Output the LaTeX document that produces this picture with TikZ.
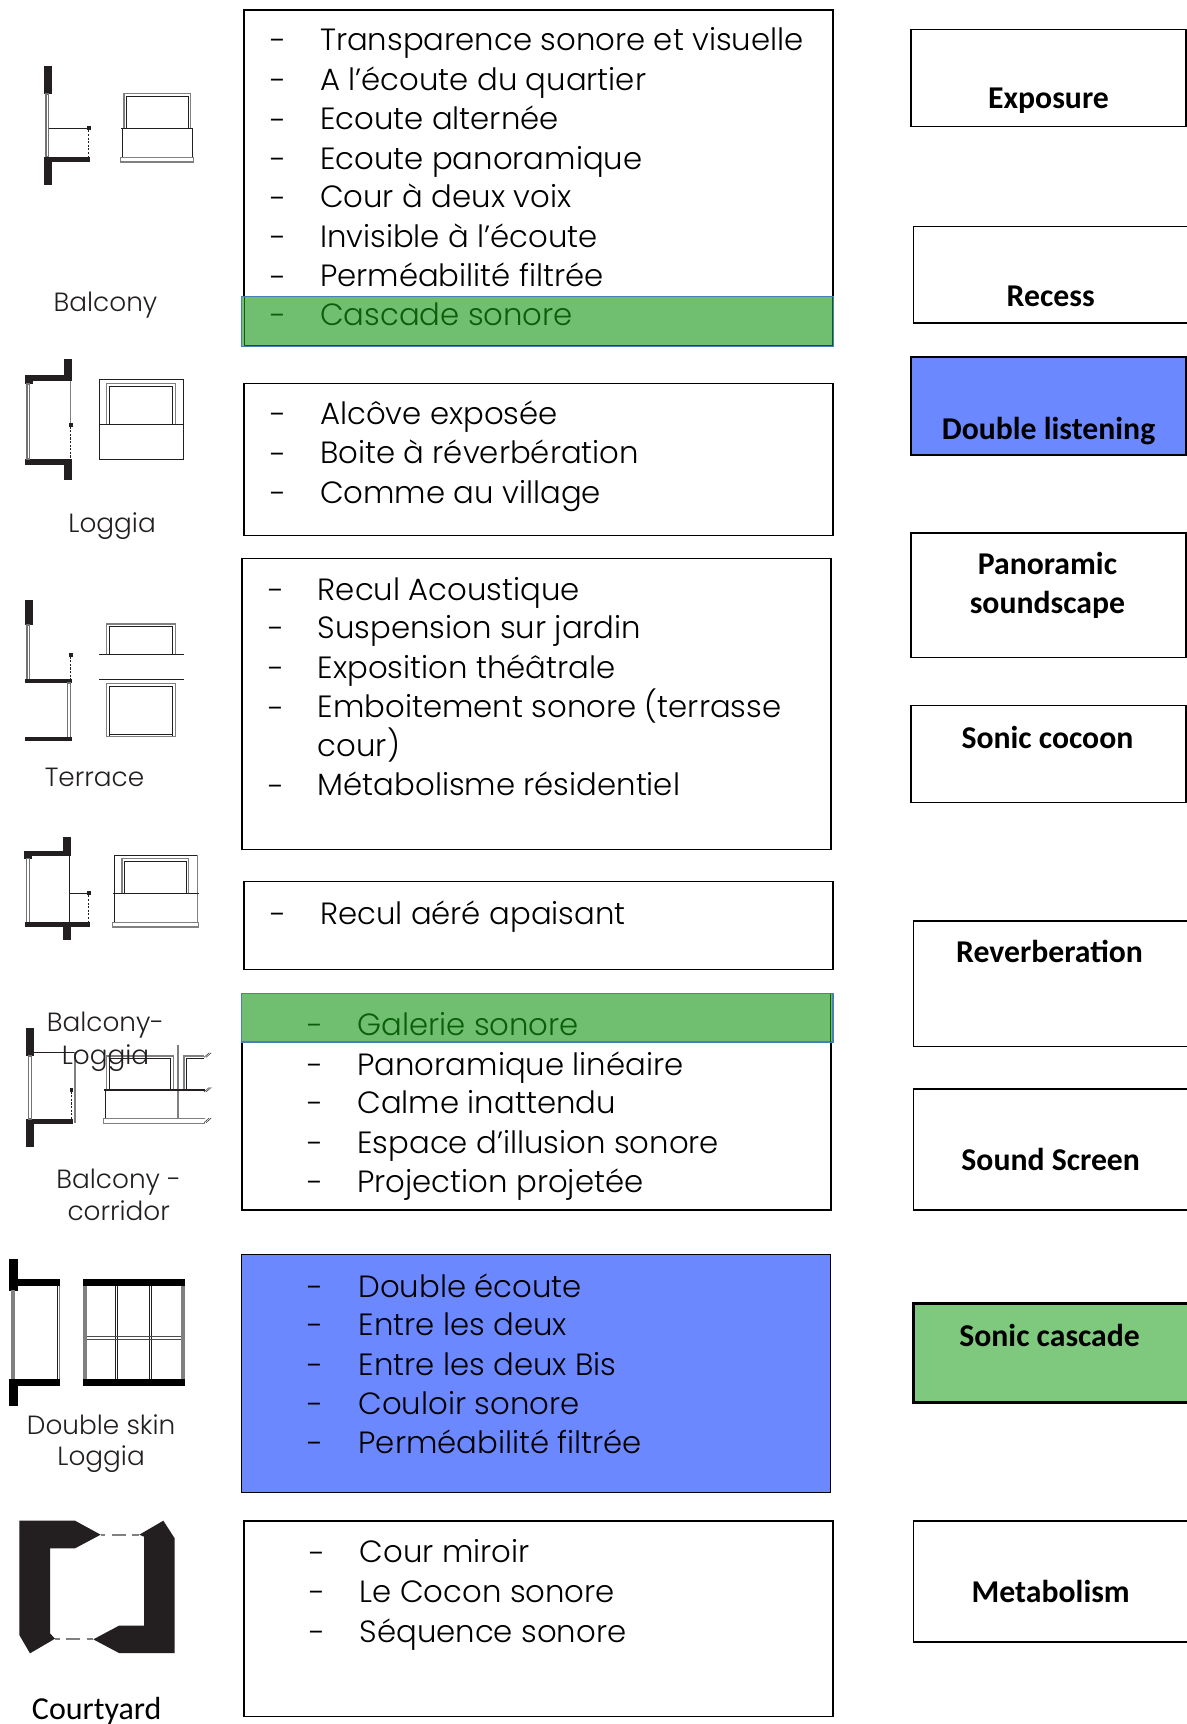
\documentclass[tikz,border=0pt]{standalone}
\usepackage{fontspec}
\setmainfont{Poppins}[UprightFont={* Light}]
\newfontfamily\calfam{Carlito}
\usetikzlibrary{calc}
\definecolor{ink}{HTML}{231F20}
\definecolor{bluef}{HTML}{6C88FF}
\definecolor{greenf}{HTML}{70BF70}
\definecolor{greenb}{HTML}{7FC97F}
\definecolor{greent}{HTML}{0B5F0B}
\definecolor{edgeb}{HTML}{4A7EBB}
\newcounter{tn}
\newcommand{\itm}[5][black]{\stepcounter{tn}\node[itemdash,text=#1] (d\thetn) at (#2,#4) {-};\node[itemtext,text=#1] (t\thetn) at (#3,#4) {#5};}
\newcommand{\lab}[3]{\stepcounter{tn}\node[leftlab] (l\thetn) at (#1,#2) {#3};}
\newcommand{\rlab}[3]{\stepcounter{tn}\node[rightlab] (r\thetn) at (#1,#2) {#3};}
\tikzset{
 itemdash/.style={anchor=mid,inner sep=0pt,xshift=1.8pt,yshift=-6.5pt,font=\fontsize{23.05pt}{26pt}\selectfont},
 itemtext/.style={anchor=mid west,inner sep=0pt,yshift=-5.6pt,font=\fontsize{23.05pt}{26pt}\selectfont},
 leftlab/.style={anchor=mid,inner sep=0pt,yshift=-3.2pt,font=\fontsize{19.75pt}{22pt}\selectfont,text=ink},
 rightlab/.style={anchor=mid,inner sep=0pt,yshift=-4.8pt,font=\calfam\bfseries\fontsize{23.8pt}{26pt}\selectfont},
 lbox/.style={draw=black,line width=1.1pt,fill=white},
 rbox/.style={draw=black,line width=1.1pt,fill=white},
 hl/.style={fill=greenf,draw=edgeb,line width=.9pt},
 wall/.style={fill=ink,draw=none},
 glass/.style={draw=black!55,line width=.85pt,fill=white},
 wline/.style={draw=ink,line width=.5pt},
 wgray/.style={draw=black!50,line width=1pt},
 heavy/.style={draw=ink,line width=1.1pt},
 dashl/.style={draw=ink,line width=.5pt,dash pattern=on 1.6pt off 1.1pt},
 icon/.style={x=0.25pt,y=-0.25pt},
 yarddash/.style={draw=black!50,line width=1.6pt,dash pattern=on 10.5pt off 4.85pt,dash phase=7pt}
}
\newcommand{\win}[4]{% outer double-line window open at the bottom
 \draw[wgray] (#1,#4) -- (#1,#2) -- (#3,#2) -- (#3,#4);
 \draw[wline] ($(#1,#4)+(8,0)$) -- ($(#1,#2)+(8,8)$) -- ($(#3,#2)+(-8,8)$) -- ($(#3,#4)+(-8,0)$);}
\begin{document}
\begin{tikzpicture}[x=0.75pt,y=-0.75pt]
\useasboundingbox (0,0) rectangle (1187,1724);
\clip (0,0) rectangle (1187,1724);
\fill[white] (0,0) rectangle (1187,1724);
\begin{scope}[x=0.8243pt,y=-0.8243pt]
% middle boxes
\draw[lbox] (222,9) rectangle (758,315);
\draw[lbox] (222,349) rectangle (758,487);
\draw[lbox] (220,508) rectangle (756,773);
\draw[lbox] (222,802) rectangle (758,882);
\draw[lbox] (220,904) rectangle (756,1101);
\draw[lbox,fill=bluef,line width=.8pt] (220,1141) rectangle (756,1358);
\draw[lbox] (222,1384) rectangle (758,1562);
\draw[hl] (220,270) rectangle (758,315);
\draw[greent,line width=.7pt] (222,270) -- (222,314) -- (757,314) -- (757,270);
\draw[hl] (220,904) rectangle (758,948);
\draw[greent,line width=.8pt] (756,904) -- (756,948);
% right boxes
\draw[rbox] (829,27) rectangle (1079,115);
\draw[rbox] (831,206) rectangle (1090,294);
\draw[rbox,fill=bluef,line width=1.4pt] (829,325) rectangle (1079,414);
\draw[rbox] (829,485) rectangle (1079,598);
\draw[rbox] (829,642) rectangle (1079,730);
\draw[rbox] (831,838) rectangle (1090,952);
\draw[rbox] (831,991) rectangle (1090,1101);
\draw[rbox,fill=greenb,line width=2.2pt] (831,1186) rectangle (1090,1276);
\draw[rbox] (831,1384) rectangle (1090,1494);
% items
\itm{251}{291}{36}{Transparence sonore et visuelle}
\itm{251}{291}{72}{A l’écoute du quartier}
\itm{251}{291}{108}{Ecoute alternée}
\itm{251}{291}{144}{Ecoute panoramique}
\itm{251}{291}{179}{Cour à deux voix}
\itm{251}{291}{215}{Invisible à l’écoute}
\itm{251}{291}{251}{Perméabilité filtrée}
\itm[greent]{251}{291}{286}{Cascade sonore}
\itm{251}{291}{376}{Alcôve exposée}
\itm{251}{291}{412}{Boite à réverbération}
\itm{251}{291}{448}{Comme au village}
\itm{249}{289}{536}{Recul Acoustique}
\itm{249}{289}{571}{Suspension sur jardin}
\itm{249}{289}{607}{Exposition théâtrale}
\itm{249}{289}{643}{Emboitement sonore (terrasse}
\stepcounter{tn}\node[itemtext] (t\thetn) at (289,678) {cour)};
\itm{249}{289}{714}{Métabolisme résidentiel}
\itm{251}{291}{831}{Recul aéré apaisant}
\itm[greent]{285}{325}{932}{Galerie sonore}
\itm{285}{325}{968}{Panoramique linéaire}
\itm{285}{325}{1003}{Calme inattendu}
\itm{285}{325}{1039}{Espace d’illusion sonore}
\itm{285}{325}{1075}{Projection projetée}
\itm{285}{326}{1170}{Double écoute}
\itm{285}{326}{1205}{Entre les deux}
\itm{285}{326}{1241}{Entre les deux Bis}
\itm{285}{326}{1277}{Couloir sonore}
\itm{285}{326}{1312}{Perméabilité filtrée}
\itm{287}{327}{1412}{Cour miroir}
\itm{287}{327}{1448}{Le Cocon sonore}
\itm{287}{327}{1484}{Séquence sonore}
% right labels
\rlab{954}{90}{Exposure}
\rlab{956}{270}{Recess}
\rlab{954}{391}{Double listening}
\rlab{953}{514}{Panoramic}
\rlab{953}{549}{soundscape}
\rlab{953}{672}{Sonic cocoon}
\rlab{955}{867}{Reverberation}
\rlab{956}{1056}{Sound Screen}
\rlab{955}{1216}{Sonic cascade}
\rlab{956}{1449}{Metabolism}
\end{scope}
% ---------- icons, drawn in zoom units
\begin{scope}[icon,yshift=-30pt]
% balcony plan
\fill[wall] (132,78) rectangle (156,162);
\fill[wall] (132,350) rectangle (156,435);
\fill[wall] (132,350) rectangle (270,366);
\draw[glass] (138,162) rectangle (146,350);
\draw[wline] (146,265) -- (267,265);
\fill[wall] (261,259) rectangle (273,271);
\draw[dashl] (266,271) -- (266,350);
% balcony elevation
\win{372}{160}{572}{265}
\draw[wline] (367,265) rectangle (578,352);
\draw[heavy] (364,265) -- (580,265);
\draw[wgray] (362,352) rectangle (581,366);
% loggia plan
\fill[wall] (192,957) rectangle (216,1022);
\fill[wall] (75,1005) rectangle (216,1022);
\fill[wall] (75,1022) rectangle (99,1032);
\fill[wall] (75,1257) rectangle (216,1275);
\fill[wall] (192,1257) rectangle (216,1320);
\draw[glass] (81,1032) rectangle (89,1257);
\draw[wgray] (212,1022) -- (212,1150);
\fill[wall] (206,1148) rectangle (218,1160);
\draw[dashl] (212,1160) -- (212,1257);
% loggia elevation
\draw[wline] (298,1018) rectangle (551,1258);
\draw[heavy] (298,1018) -- (551,1018);
\win{320}{1030}{526}{1152}
\draw[heavy] (298,1154) -- (551,1154);
\end{scope}
\begin{scope}[icon,yshift=-435pt]
% terrace plan
\fill[wall] (75,60) rectangle (99,135);
\draw[glass] (81,135) rectangle (89,298);
\fill[wall] (75,298) rectangle (216,309);
\fill[wall] (207,218) rectangle (219,230);
\draw[dashl] (212,230) -- (212,298);
\draw[glass] (202,309) rectangle (212,472);
\fill[wall] (75,472) rectangle (216,483);
% terrace elevation
\win{320}{132}{526}{222}
\draw[wline,line width=.7pt] (298,224) -- (551,224);
\draw[wline,line width=.7pt] (298,298) -- (551,298);
\win{320}{310}{526}{470}
\draw[wgray] (320,470) -- (526,470);
\draw[wline] (328,462) -- (518,462);
% balcony-loggia plan
\fill[wall] (189,771) rectangle (213,825);
\fill[wall] (72,813) rectangle (213,828);
\fill[wall] (72,828) rectangle (96,836);
\draw[glass] (80,836) rectangle (89,1027);
\fill[wall] (75,1027) rectangle (270,1041);
\fill[wall] (189,1041) rectangle (213,1080);
\draw[wline] (209,828) -- (209,1027);
\draw[wline] (209,940) -- (266,940);
\fill[wall] (260,934) rectangle (272,946);
\draw[dashl] (266,946) -- (266,1027);
% balcony-loggia elevation
\draw[wline] (343,1027) -- (343,825) -- (592,825);
\draw[wgray] (592,825) -- (592,1027);
\win{366}{835}{566}{940}
\draw[heavy,line width=.9pt] (340,940) -- (596,940);
\draw[wgray] (338,1027) rectangle (596,1041);
\end{scope}
\begin{scope}[icon,yshift=-735pt]
% balcony-corridor plan
\fill[wall] (78,144) rectangle (102,228);
\fill[wall] (78,417) rectangle (102,500);
\fill[wall] (78,417) rectangle (220,431);
\draw[glass] (86,228) rectangle (95,417);
\draw[wline] (102,217) -- (225,217);
\draw[wgray] (225,217) -- (225,430);
\fill[wall] (209,324) rectangle (219,335);
\draw[dashl] (214,335) -- (214,417);
% balcony-corridor elevation
\win{320}{228}{520}{328}
\draw[wgray] (534,196) -- (534,417);
\draw[wgray] (552,328) -- (552,228) -- (612,228);
\draw[wline] (559,328) -- (559,235) -- (612,235);
\draw[heavy] (312,330) -- (615,330);
\draw[wline] (316,330) -- (316,415);
\draw[wgray] (615,415) -- (310,415) -- (310,430) -- (615,430);
\foreach \yy in {226,330,422}{
 \draw[wline,line width=.35pt] (612,\yy+6) -- (628,\yy-8);
 \draw[wline,line width=.35pt] (618,\yy+6) -- (634,\yy-8);
}
% double skin plan
\fill[black] (27,837) rectangle (53,932);
\fill[black] (53,897) rectangle (181,917);
\fill[black] (27,1198) rectangle (53,1278);
\fill[black] (53,1198) rectangle (181,1219);
\fill[black!50] (34,930) rectangle (45,1198);
\draw[wline] (172,917) -- (172,1198);
\draw[wgray] (179,917) -- (179,1198);
% double skin elevation
\fill[black] (249,897) rectangle (555,917);
\fill[black] (249,1198) rectangle (555,1219);
\fill[black!50] (249,917) rectangle (260,1198);
\fill[black!50] (544,917) rectangle (555,1198);
\draw[wline,line width=.7pt] (346,917) -- (346,1198);
\draw[wline,line width=.7pt] (353,917) -- (353,1198);
\draw[wline,line width=.7pt] (447,917) -- (447,1198);
\draw[wline,line width=.7pt] (454,917) -- (454,1198);
\draw[wline,line width=.7pt,draw=black!70] (260,1069) -- (544,1069);
\draw[wline,line width=.7pt,draw=black!70] (260,1079) -- (544,1079);
\end{scope}
\begin{scope}[icon,yshift=-1050pt]
% courtyard
\fill[ink] (58,362) -- (225,362) -- (302,404) -- (225,445) -- (150,445) -- (150,700) -- (165,716) -- (90,760) -- (58,705) -- cycle;
\fill[ink] (490,362) -- (524,415) -- (524,759) -- (357,759) -- (280,718) -- (357,677) -- (432,677) -- (432,410) -- (418,404) -- cycle;
\draw[yarddash] (302,404) -- (418,404);
\draw[yarddash] (165,717) -- (280,717);
\end{scope}
% left labels
\begin{scope}[x=0.8243pt,y=-0.8243pt]
\lab{96}{276}{Balcony}
\lab{102}{477}{Loggia}
\lab{86}{708}{Terrace}
\lab{96}{931}{Balcony-}
\lab{96}{961}{Loggia}
\lab{108}{1074}{Balcony -}
\lab{108}{1103}{corridor}
\lab{92}{1298}{Double skin}
\lab{92}{1326}{Loggia}
\stepcounter{tn}\node[leftlab,yshift=-1.6pt,font=\calfam\fontsize{24pt}{26pt}\selectfont,text=black] (l\thetn) at (88,1555) {Courtyard};
\end{scope}
\end{tikzpicture}
\end{document}
